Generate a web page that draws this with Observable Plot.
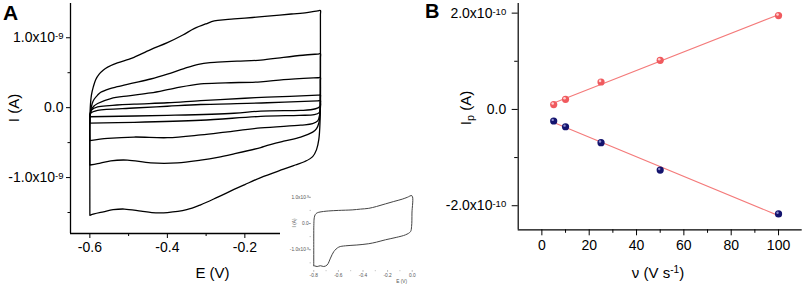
<!DOCTYPE html>
<html><head><meta charset="utf-8">
<script src="https://cdn.jsdelivr.net/npm/d3@7"></script>
<script src="https://cdn.jsdelivr.net/npm/@observablehq/plot@0.6"></script>
<style>
body{margin:0;background:#fff;}
#root{position:relative;width:803px;height:286px;overflow:hidden;font-family:"Liberation Sans",Arial,sans-serif;color:#000;background:#fff;}
.pan{position:absolute;}
.lab{position:absolute;white-space:nowrap;line-height:1;transform:translate(-50%,-50%);}
.rot{transform:translate(-50%,-50%) rotate(-90deg);}
.big{font-weight:bold;font-size:21px;line-height:1;position:absolute;}
sup{font-size:0.68em;vertical-align:0.45em;line-height:0;}
sub{font-size:0.72em;vertical-align:-0.3em;line-height:0;}
</style></head><body><div id="root"></div>
<script>
// ---------- Panel A: cyclic voltammograms (E in V, I in units of 1e-9 A) ----------
const cv100 = [[-0.6,-1.54],[-0.6,-0.3],[-0.599,0.0],[-0.596,0.18],[-0.591,0.3],[-0.585,0.4],[-0.576,0.48],[-0.565,0.54],[-0.554,0.58],[-0.529,0.64],[-0.5,0.69],[-0.486,0.72],[-0.443,0.83],[-0.4,0.93],[-0.36,1.04],[-0.331,1.13],[-0.3,1.2],[-0.279,1.24],[-0.25,1.26],[-0.228,1.27],[-0.18,1.29],[-0.141,1.31],[-0.08,1.34],[-0.04,1.36],[-0.012,1.385],[-0.005,1.39],[-0.005,1.33],[-0.005,0.5],[-0.006,-0.2],[-0.009,-0.45],[-0.015,-0.6],[-0.025,-0.7],[-0.045,-0.77],[-0.07,-0.82],[-0.1,-0.88],[-0.159,-1.0],[-0.2,-1.1],[-0.228,-1.17],[-0.27,-1.28],[-0.314,-1.39],[-0.35,-1.46],[-0.4,-1.5],[-0.44,-1.5],[-0.468,-1.48],[-0.511,-1.45],[-0.54,-1.46],[-0.565,-1.49],[-0.589,-1.52],[-0.6,-1.54]];
const cv50 = [[-0.6,-0.82],[-0.6,-0.2],[-0.598,-0.05],[-0.594,0.06],[-0.589,0.12],[-0.58,0.18],[-0.572,0.22],[-0.55,0.27],[-0.529,0.3],[-0.49,0.35],[-0.443,0.41],[-0.4,0.48],[-0.357,0.56],[-0.32,0.62],[-0.29,0.645],[-0.271,0.65],[-0.22,0.665],[-0.159,0.68],[-0.1,0.72],[-0.05,0.75],[-0.012,0.767],[-0.005,0.77],[-0.005,0.72],[-0.005,0.3],[-0.006,-0.1],[-0.009,-0.22],[-0.015,-0.3],[-0.025,-0.35],[-0.056,-0.42],[-0.1,-0.48],[-0.142,-0.54],[-0.159,-0.57],[-0.228,-0.66],[-0.27,-0.71],[-0.314,-0.75],[-0.374,-0.79],[-0.443,-0.79],[-0.503,-0.75],[-0.546,-0.76],[-0.58,-0.8],[-0.6,-0.82]];
const cv25 = [[-0.6,-0.47],[-0.6,-0.15],[-0.597,-0.04],[-0.59,0.02],[-0.58,0.06],[-0.546,0.13],[-0.5,0.17],[-0.443,0.21],[-0.38,0.28],[-0.314,0.34],[-0.25,0.355],[-0.159,0.37],[-0.1,0.4],[-0.012,0.428],[-0.005,0.43],[-0.005,0.39],[-0.005,0.1],[-0.007,-0.1],[-0.012,-0.19],[-0.025,-0.23],[-0.056,-0.25],[-0.159,-0.29],[-0.25,-0.35],[-0.314,-0.39],[-0.4,-0.43],[-0.486,-0.42],[-0.554,-0.44],[-0.6,-0.47]];
const cv10 = [[-0.6,-0.22],[-0.6,-0.1],[-0.595,-0.03],[-0.58,0.01],[-0.55,0.03],[-0.486,0.05],[-0.4,0.07],[-0.314,0.1],[-0.2,0.135],[-0.142,0.15],[-0.012,0.178],[-0.005,0.18],[-0.005,0.15],[-0.005,0.0],[-0.008,-0.07],[-0.021,-0.1],[-0.06,-0.11],[-0.159,-0.125],[-0.314,-0.18],[-0.486,-0.21],[-0.6,-0.22]];
const cv5 = [[-0.6,-0.13],[-0.598,-0.08],[-0.58,-0.04],[-0.486,-0.005],[-0.4,0.02],[-0.314,0.045],[-0.142,0.07],[-0.012,0.098],[-0.005,0.1],[-0.005,0.07],[-0.005,0.03],[-0.01,0.0],[-0.03,-0.03],[-0.056,-0.04],[-0.159,-0.05],[-0.228,-0.08],[-0.4,-0.11],[-0.6,-0.13]];
const aXMajor = [-0.6,-0.4,-0.2,0.0];
const aXMinor = [-0.5,-0.3,-0.1];
const aYMajor = [-1,0,1];
const aYMinor = [-1.5,-0.5,0.5];

// ---------- Inset: single CV (E in V, I in units of 1e-9 A) ----------
const cvInset = [[-0.8,-1.61],[-0.8,-0.8],[-0.799,0.0],[-0.796,0.22],[-0.788,0.34],[-0.775,0.4],[-0.759,0.43],[-0.72,0.46],[-0.678,0.48],[-0.6,0.5],[-0.488,0.52],[-0.42,0.55],[-0.353,0.58],[-0.29,0.65],[-0.217,0.75],[-0.15,0.84],[-0.081,0.93],[-0.04,1.0],[-0.002,1.06],[-0.002,0.4],[-0.005,-0.11],[-0.014,-0.31],[-0.054,-0.43],[-0.13,-0.53],[-0.217,-0.62],[-0.29,-0.71],[-0.353,-0.77],[-0.45,-0.82],[-0.542,-0.85],[-0.597,-0.9],[-0.637,-1.07],[-0.664,-1.32],[-0.691,-1.58],[-0.719,-1.64],[-0.746,-1.61],[-0.772,-1.64],[-0.79,-1.62],[-0.8,-1.61]];
const iXMajor = [-0.8,-0.6,-0.4,-0.2,0.0];
const iXMinor = [-0.7,-0.5,-0.3,-0.1];
const iYMajor = [-1,0,1];
const iYMinor = [-1.5,-0.5,0.5];

// ---------- Panel B: peak currents (units of 1e-10 A) vs scan rate ----------
const scanRates = [5,10,25,50,100];
const ipAnodic = [0.10,0.21,0.57,1.02,1.95];
const ipCathodic = [-0.24,-0.36,-0.69,-1.26,-2.17];
const bXMajor = [0,20,40,60,80,100];
const bXMinor = [10,30,50,70,90];
const bYMajor = [-2,0,2];
const bYMinor = [-1,1];

const FONT = '"Liberation Sans", Arial, sans-serif';
const expFmt = exp => d => d === 0 ? "0.0" : (d < 0 ? "-" : "") + Math.abs(d).toFixed(1) + "x10|" + exp;
const blank = () => "";

function supers(svg) {
  d3.select(svg).selectAll("text").each(function () {
    const t = this.textContent;
    if (t.includes("|")) {
      const [a, b] = t.split("|");
      const s = d3.select(this);
      s.text(a);
      s.append("tspan").attr("dy", "-0.3em").attr("font-size", "0.68em").text(b);
    }
  });
  return svg;
}

const root = document.getElementById("root");
function place(node, left, top) {
  const d = document.createElement("div");
  d.className = "pan";
  d.style.left = left + "px";
  d.style.top = top + "px";
  d.appendChild(node);
  root.appendChild(d);
  return d;
}
function label(html, cx, cy, size, opts = {}) {
  const d = document.createElement("div");
  d.className = "lab" + (opts.rot ? " rot" : "");
  d.style.left = cx + "px";
  d.style.top = cy + "px";
  d.style.fontSize = size + "px";
  if (opts.color) d.style.color = opts.color;
  d.innerHTML = html;
  root.appendChild(d);
}

// Panel A
const cvs = [cv100, cv50, cv25, cv10, cv5];
const plotA = Plot.plot({
  width: 340, height: 286,
  marginLeft: 70, marginTop: 3, marginBottom: 53, marginRight: 10.4,
  x: {domain: [-0.65, 0.02]},
  y: {domain: [-1.8, 1.49]},
  style: {fontFamily: FONT, fontSize: "14px", color: "#000", background: "transparent", overflow: "visible"},
  marks: [
    Plot.ruleX([-0.65], {strokeWidth: 1.3}),
    Plot.ruleY([-1.8], {strokeWidth: 1.3}),
    Plot.axisX({ticks: aXMajor, tickSize: 5, tickPadding: 4, tickFormat: d => d.toFixed(1), label: null}),
    Plot.axisX({ticks: aXMinor, tickSize: 3, tickFormat: blank, label: null}),
    Plot.axisY({ticks: aYMajor, tickSize: 4, tickPadding: 3, tickFormat: expFmt("-9"), label: null}),
    Plot.axisY({ticks: aYMinor, tickSize: 2.5, tickFormat: blank, label: null}),
    ...cvs.map(cv => Plot.line(cv, {x: d => d[0], y: d => d[1], curve: "catmull-rom", stroke: "#000", strokeWidth: 1.3}))
  ]
});
place(supers(plotA), 0, 0);

// Inset
const plotI = Plot.plot({
  width: 160, height: 100,
  marginLeft: 30.8, marginRight: 24.6, marginTop: 4, marginBottom: 15.8,
  x: {domain: [-0.82, 0.03]},
  y: {domain: [-1.8, 1.26]},
  style: {fontFamily: FONT, fontSize: "4.8px", color: "#555", background: "#fff", overflow: "visible"},
  marks: [
    Plot.axisX({ticks: iXMajor, tickSize: 1.5, tickPadding: 1.5, tickFormat: d => d.toFixed(1), label: null, stroke: "#aaa"}),
    Plot.axisX({ticks: iXMinor, tickSize: 1, tickFormat: blank, label: null, stroke: "#bbb"}),
    Plot.axisY({ticks: iYMajor, tickSize: 2, tickPadding: 0.6, tickFormat: expFmt("-9"), label: null, stroke: "#999"}),
    Plot.axisY({ticks: iYMinor, tickSize: 1.2, tickFormat: blank, label: null, stroke: "#bbb"}),
    Plot.line(cvInset, {x: d => d[0], y: d => d[1], curve: "catmull-rom", stroke: "#444", strokeWidth: 1})
  ]
});
place(supers(plotI), 280, 186);

// Panel B
const peaks = scanRates.map((v, i) => ({v, ip: ipAnodic[i], s: "anodic"}))
  .concat(scanRates.map((v, i) => ({v, ip: ipCathodic[i], s: "cathodic"})));
const anod = peaks.filter(d => d.s === "anodic");
const cath = peaks.filter(d => d.s === "cathodic");
const plotB = Plot.plot({
  width: 363, height: 286,
  marginLeft: 77.7, marginRight: 1.3, marginTop: 3, marginBottom: 56.7,
  x: {domain: [-10, 110]},
  y: {domain: [-2.5, 2.2]},
  style: {fontFamily: FONT, fontSize: "14px", color: "#000", background: "transparent", overflow: "visible"},
  marks: [
    Plot.ruleX([-10], {strokeWidth: 1.2}),
    Plot.ruleY([-2.5], {strokeWidth: 1.2}),
    Plot.axisX({ticks: bXMajor, tickSize: 6, tickPadding: 4, tickFormat: d => String(d), label: null}),
    Plot.axisX({ticks: bXMinor, tickSize: 3.5, tickFormat: blank, label: null}),
    Plot.axisY({ticks: bYMajor, tickSize: 6, tickPadding: 6, tickFormat: expFmt("-10"), label: null}),
    Plot.axisY({ticks: bYMinor, tickSize: 3.5, tickFormat: blank, label: null}),
    Plot.linearRegressionY(peaks, {x: "v", y: "ip", z: "s", stroke: "#f47a7a", strokeWidth: 1.1, ci: 0}),
    Plot.dot(anod, {x: "v", y: "ip", r: 3.6, fill: "#f05a5e"}),
    Plot.dot(cath, {x: "v", y: "ip", r: 3.6, fill: "#14146e"}),
    Plot.dot(anod, {x: "v", y: "ip", r: 1.3, fill: "#ffd0d0", dx: -1, dy: -1.1}),
    Plot.dot(cath, {x: "v", y: "ip", r: 1.2, fill: "#8c8ccc", dx: -1, dy: -1.1})
  ]
});
place(supers(plotB), 440, 0);

// Titles and axis labels
const a = document.createElement("div"); a.className = "big"; a.textContent = "A"; a.style.left = "3px"; a.style.top = "2px"; root.appendChild(a);
const b = document.createElement("div"); b.className = "big"; b.textContent = "B"; b.style.left = "425px"; b.style.top = "1px"; b.style.fontSize = "20px"; root.appendChild(b);
label("I (A)", 13, 107.5, 15, {rot: true});
label("E (V)", 212.5, 271.5, 15);
label("I<sub>p</sub> (A)", 465, 107.5, 15, {rot: true});
label("ν (V s<sup>-1</sup>)", 658, 271.5, 15);
label("I (A)", 295, 223, 4.8, {rot: true, color: "#555"});
label("E (V)", 401.7, 281.7, 4.8, {color: "#555"});
</script></body></html>
